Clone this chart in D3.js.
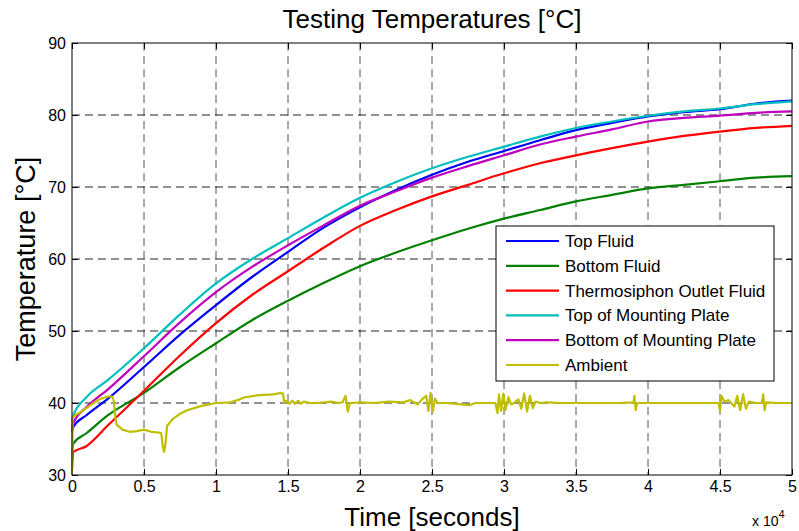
<!DOCTYPE html>
<html>
<head>
<meta charset="utf-8">
<script src="https://d3js.org/d3.v7.min.js"></script>
<style>
  body { margin: 0; background: #fff; }
  svg { display: block; font-family: "Liberation Sans", Arial, sans-serif; }
</style>
</head>
<body>
<div id="chart"></div>
<script>
// =====================================
// DATA  (time in units of 10^4 seconds)
// =====================================

const time = [0, 0.01, 0.1, 0.25, 0.5, 0.75, 1, 1.25, 1.5, 1.75, 2, 2.25, 2.5, 2.75, 3, 3.25, 3.5, 3.75, 4, 4.25, 4.5, 4.75, 5];

const topFluid      = [36.0, 36.7, 38.3, 40.6, 45.0, 49.5, 53.6, 57.5, 61.0, 64.4, 67.2, 69.6, 71.7, 73.5, 75.0, 76.5, 77.9, 78.9, 79.8, 80.4, 80.8, 81.6, 82.0];
const bottomFluid   = [33.0, 34.4, 35.8, 38.3, 41.4, 45.0, 48.3, 51.5, 54.2, 56.7, 59.0, 60.9, 62.6, 64.2, 65.6, 66.8, 68.0, 68.9, 69.8, 70.3, 70.8, 71.3, 71.5];
const outletFluid   = [31.0, 33.2, 34.0, 36.9, 41.7, 46.6, 51.1, 55.0, 58.3, 61.6, 64.6, 66.8, 68.7, 70.3, 71.9, 73.3, 74.4, 75.4, 76.3, 77.1, 77.7, 78.2, 78.5];
const topPlate      = [37.5, 38.3, 40.8, 43.2, 47.6, 52.3, 56.6, 60.0, 62.9, 65.8, 68.5, 70.7, 72.6, 74.2, 75.6, 77.0, 78.2, 79.1, 79.9, 80.5, 80.9, 81.5, 81.9];
const bottomPlate   = [36.5, 37.2, 39.4, 41.9, 46.5, 51.2, 55.4, 58.9, 61.9, 64.7, 67.4, 69.4, 71.3, 72.9, 74.4, 75.9, 77.0, 78.0, 79.1, 79.6, 79.9, 80.3, 80.5];

const ambientTime = [
  0, 0.005, 0.02, 0.05, 0.1, 0.15, 0.2, 0.25, 0.28, 0.29, 0.3, 0.31, 0.35, 0.4, 0.45, 0.5, 0.55, 0.6, 0.62, 0.63, 0.64, 0.65, 0.66,
  0.7, 0.75, 0.8, 0.9, 1.0, 1.1, 1.15, 1.2, 1.3, 1.4, 1.45, 1.465, 1.475,
  1.49, 1.51, 1.53, 1.55, 1.57, 1.59, 1.61, 1.65, 1.7, 1.75, 1.8, 1.85, 1.88, 1.9, 1.915, 1.93,
  1.95, 2.0, 2.1, 2.2, 2.3, 2.35, 2.4, 2.43, 2.46, 2.475, 2.49, 2.505, 2.52, 2.54,
  2.6, 2.76, 2.8, 2.9, 2.94, 2.955, 2.965, 2.98, 2.995, 3.01, 3.03, 3.05, 3.07, 3.1, 3.12, 3.14, 3.16, 3.18, 3.2, 3.22, 3.25,
  3.3, 3.4, 3.6, 3.8, 3.9, 3.905, 3.915, 3.925, 4.0, 4.2, 4.4, 4.49, 4.5, 4.51, 4.53, 4.56, 4.6, 4.62, 4.64, 4.66, 4.68, 4.7,
  4.75, 4.79, 4.8, 4.81, 4.82, 4.9, 5.0
];
const ambientTemp = [
  30.0, 38.0, 38.3, 38.6, 39.3, 40.0, 40.6, 40.9, 40.9, 40.3, 38.0, 37.0, 36.3, 36.0, 36.1, 36.3, 36.0, 35.9, 35.8, 34.0, 33.2, 34.5, 36.8,
  37.8, 38.5, 39.0, 39.6, 40.0, 40.1, 40.4, 40.8, 41.1, 41.2, 41.4, 41.3, 40.0,
  40.3, 39.9, 40.3, 39.9, 40.3, 39.9, 40.2, 40.0, 40.0, 40.1, 40.2, 40.0, 40.1, 41.0, 38.8, 40.0,
  40.0, 40.1, 40.0, 40.2, 40.1, 40.4, 39.8, 40.5, 41.0, 38.9, 41.4, 38.8, 40.6, 40.0,
  40.0, 39.7, 40.0, 40.0, 40.0, 38.6, 41.2, 38.9, 41.3, 39.0, 40.8, 39.8, 40.0, 40.5, 39.2, 41.3, 38.8, 41.0, 39.3, 40.2, 40.0,
  40.1, 40.0, 40.0, 40.0, 40.1, 41.0, 39.0, 40.0, 40.0, 40.0, 40.0, 40.0, 38.9, 41.0, 40.2, 40.4, 39.5, 41.0, 39.0, 41.2, 39.2, 40.2,
  40.0, 40.0, 41.2, 39.0, 40.1, 40.0, 40.0
];

const seriesNames  = ["Top Fluid", "Bottom Fluid", "Thermosiphon Outlet Fluid", "Top of Mounting Plate", "Bottom of Mounting Plate", "Ambient"];
const seriesColors = ["#0000ff", "#008000", "#ff0000", "#00bfbf", "#bf00bf", "#bfbf00"];

const xTicks = [0, 0.5, 1, 1.5, 2, 2.5, 3, 3.5, 4, 4.5, 5];
const yTicks = [30, 40, 50, 60, 70, 80, 90];

// =====================================
// DIMENSIONS
// =====================================

const W = 799, H = 531;
const margin = { top: 43, right: 7, bottom: 56, left: 72 };
const width = W - margin.left - margin.right;
const height = H - margin.top - margin.bottom;

const svg = d3.select("#chart")
  .append("svg")
  .attr("width", W)
  .attr("height", H);

const g = svg.append("g")
  .attr("transform", `translate(${margin.left},${margin.top})`);

// =====================================
// SCALES
// =====================================

const x = d3.scaleLinear().domain([0, 5]).range([0, width]);
const y = d3.scaleLinear().domain([30, 90]).range([height, 0]);

// =====================================
// GRID
// =====================================

g.selectAll(".vgrid")
  .data(xTicks.slice(1, -1))
  .enter()
  .append("line")
  .attr("x1", d => x(d)).attr("x2", d => x(d))
  .attr("y1", 0).attr("y2", height)
  .style("stroke", "#555")
  .style("stroke-dasharray", "8 5");

g.selectAll(".hgrid")
  .data(yTicks.slice(1, -1))
  .enter()
  .append("line")
  .attr("x1", 0).attr("x2", width)
  .attr("y1", d => y(d)).attr("y2", d => y(d))
  .style("stroke", "#222")
  .style("stroke-dasharray", "8 5");

// =====================================
// AXES
// =====================================

const axisStyle = sel => {
  sel.select(".domain").remove();
  sel.selectAll("line").style("stroke", "#000");
  sel.selectAll("text").style("font-size", "16px").style("fill", "#000");
};

g.append("g")
  .attr("transform", `translate(0,${height})`)
  .call(d3.axisBottom(x).tickValues(xTicks).tickSize(-6).tickPadding(6).tickFormat(d => d))
  .call(axisStyle);

g.append("g")
  .call(d3.axisTop(x).tickValues(xTicks).tickSize(-6).tickFormat(""))
  .call(axisStyle);

g.append("g")
  .call(d3.axisLeft(y).tickValues(yTicks).tickSize(-6).tickPadding(6))
  .call(axisStyle);

g.append("g")
  .attr("transform", `translate(${width},0)`)
  .call(d3.axisRight(y).tickValues(yTicks).tickSize(-6).tickFormat(""))
  .call(axisStyle);

// =====================================
// LINES
// =====================================

const line = d3.line()
  .x(d => x(d[0]))
  .y(d => y(d[1]));

const smoothLine = d3.line()
  .x(d => x(d[0]))
  .y(d => y(d[1]))
  .curve(d3.curveMonotoneX);

const smoothSeries = [topFluid, bottomFluid, outletFluid, topPlate, bottomPlate];

smoothSeries.forEach((vals, i) => {
  g.append("path")
    .datum(time.map((t, j) => [t, vals[j]]))
    .attr("fill", "none")
    .attr("stroke", seriesColors[i])
    .attr("stroke-width", 2.2)
    .attr("d", smoothLine);
});

g.append("path")
  .datum(ambientTime.map((t, j) => [t, ambientTemp[j]]))
  .attr("fill", "none")
  .attr("stroke", seriesColors[5])
  .attr("stroke-width", 2.2)
  .attr("stroke-linejoin", "round")
  .attr("d", line);

// box
g.append("rect")
  .attr("width", width)
  .attr("height", height)
  .attr("fill", "none")
  .attr("stroke", "#000");

// =====================================
// LEGEND
// =====================================

const legend = svg.append("g")
  .attr("transform", "translate(496,226)");

legend.append("rect")
  .attr("width", 278)
  .attr("height", 155)
  .attr("fill", "#fff")
  .attr("stroke", "#000");

const rows = legend.selectAll(".row")
  .data(seriesNames)
  .enter()
  .append("g")
  .attr("transform", (d, i) => `translate(0,${15 + i * 24.8})`);

rows.append("line")
  .attr("x1", 10).attr("x2", 63)
  .attr("stroke", (d, i) => seriesColors[i])
  .attr("stroke-width", 2.2);

rows.append("text")
  .attr("x", 69)
  .attr("dy", "0.35em")
  .style("font-size", "17px")
  .text(d => d);

// =====================================
// TITLES
// =====================================

svg.append("text")
  .attr("x", margin.left + width / 2)
  .attr("y", 28)
  .attr("text-anchor", "middle")
  .style("font-size", "26px")
  .text("Testing Temperatures [°C]");

svg.append("text")
  .attr("x", margin.left + width / 2)
  .attr("y", 526)
  .attr("text-anchor", "middle")
  .style("font-size", "26px")
  .text("Time [seconds]");

svg.append("text")
  .attr("transform", `translate(35,${margin.top + height / 2}) rotate(-90)`)
  .attr("text-anchor", "middle")
  .style("font-size", "27px")
  .text("Temperature [°C]");

const expo = svg.append("text")
  .attr("x", 752)
  .attr("y", 526)
  .style("font-size", "14px");
expo.append("tspan").text("x 10");
expo.append("tspan").attr("dy", -8).style("font-size", "11px").text("4");
</script>
</body>
</html>
